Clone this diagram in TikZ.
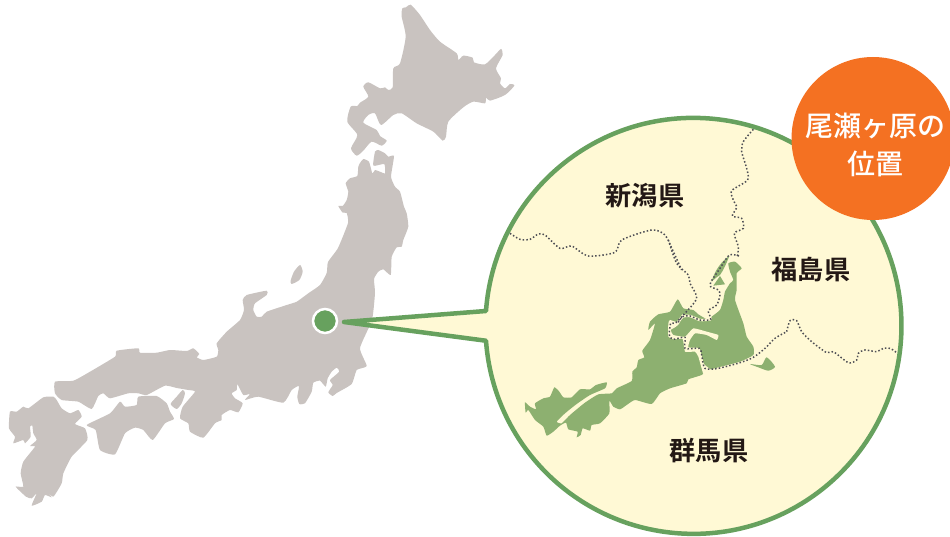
\documentclass[tikz,border=0pt]{standalone}
\usepackage{fontspec}
\setmainfont[BoldFont={Noto Sans CJK JP Bold}]{Noto Sans CJK JP Medium}
\definecolor{landgray}{HTML}{C9C3C0}
\definecolor{ringgreen}{HTML}{67A15E}
\definecolor{creambg}{HTML}{FFF9D5}
\definecolor{forest}{HTML}{8DB070}
\definecolor{badge}{HTML}{F47122}
\definecolor{inktext}{HTML}{231815}
\definecolor{borderdot}{HTML}{4F4F55}
\tikzset{
  zoomed/.style n args={2}{shift={(#1,#2)},x=0.33333pt,y=-0.33333pt},
  land/.style={fill=landgray},
  wood/.style={fill=forest},
  border/.style={draw=borderdot,line width=1.5pt,dash pattern=on 1.5pt off 2.1pt},
  halo/.style={draw=creambg,line width=2.4pt},
  pref/.style={text=inktext,font=\bfseries\fontsize{26.2}{28}\selectfont,inner sep=0pt},
  smoothed/.style={smooth cycle,tension=0.4},
  line/.style={smooth,tension=0.45}
}
\begin{document}
\begin{tikzpicture}[x=1pt,y=-1pt]
\useasboundingbox (0,0) rectangle (950,537);

% Hokkaido
\begin{scope}[zoomed={200}{0}]
\fill[land] plot[smoothed] coordinates {(607,25)(618,22)(632,14)(660,45)(690,90)(720,125)(770,160)(775,180)(790,167)(818,173)(822,187)(855,193)(885,165)(903,147)(908,165)(888,205)(903,235)(900,250)(915,265)(930,252)(943,257)(915,285)(870,302)(858,293)(855,310)(820,305)(790,322)(745,365)(738,410)(728,422)(700,395)(650,370)(605,340)(580,345)(543,375)(525,340)(505,345)(490,368)(530,390)(540,408)(560,422)(545,437)(515,425)(490,452)(470,467)(453,445)(472,405)(442,365)(452,320)(472,318)(480,308)(505,290)(490,260)(505,247)(540,265)(555,262)(565,270)(578,262)(580,205)(600,190)(617,110)(605,50)};
\end{scope}

% Honshu
\fill[land] plot[smooth cycle,tension=0.3] coordinates {
(360,163)(363.3,159)(369,161.7)(372.3,173.3)(375,170)(380,171.7)(385,173.3)(384.3,164)(373.3,165.7)(375,151.7)(378.3,150)(385,153.3)(388.3,156.7)(394,156)(391,176.7)(395,186.7)(400,191.7)(404,206.7)(406.7,213.3)(408.3,226.7)(403.3,240)(401.7,246.7)(396.7,247.3)(391.7,256.7)(390.7,275)(383.3,269.3)(378.3,271.7)(374,279)
(375,293)(372,320)(360,348)(366.7,366)(356.7,370)(351.7,384)(336.7,393)(332.7,396)(328.3,392.3)(332.7,385)(330,380)(339.3,371.7)(336.7,367.7)(331.7,371.7)(327.7,378.3)(325.7,386.7)(320,380.7)(313.3,382.7)(311.7,391.7)(305,403.3)(299.3,404)(297.3,396.7)(299,386)(291.7,390)(283.3,402.7)(258.3,396.7)(245,400)(250,394)(243.3,395)(237.3,384)(236.7,390)(231.7,393.3)(235,398.3)(242.7,403.3)(238.3,412.3)(230,410)(221.7,415)(221.7,420)(215,423.3)(203.3,437.7)
(190,431.7)(188.3,423.3)(180,418.3)(182.7,406.7)(195,391.7)(188.3,390)(176.7,388)(165,385.7)(146.7,395)(138.3,393.3)(128.3,393.3)(110,398.3)(103.3,393.3)(98.3,396)(91.7,409)(78.3,401.7)(61.7,400)(55,393.3)(55,381.7)(73.3,380.7)(90,371.7)(115,356.7)(116.7,350.7)(138.3,348.3)(140,352.7)(156.7,352.7)(170,350)(186.7,351)(193.3,348.3)(199.3,354)(196.7,357.3)(203.3,360)(216.7,356.7)(218.3,350)(216.7,343.3)(226.7,331.7)(240,320)(244,310)(242.7,300)(246.7,295)(266.7,290.7)(266.7,295)(255,303.3)(253.3,310)(256.7,316.7)(261.7,316.7)(266.7,311.7)(286.7,305)(296.7,301.7)(308.3,293.3)(320,285)(326.7,273)(328,262)(338,248)(348,223)(346.7,213)(342.7,212.7)(338.3,206)(342.7,206)(346.7,200)(348.3,191.7)(345.7,183.3)(350,178.3)(357.3,176)(358.3,166.7)};

% Sado
\begin{scope}[zoomed={180}{260}]
\fill[land] plot[smoothed] coordinates {(360,15)(368,35)(358,60)(335,72)(332,62)(342,35)};
\end{scope}

\begin{scope}[zoomed={0}{260}]
% Shikoku
\fill[land] plot[smooth cycle,tension=0.3] coordinates {(260,495)(330,460)(360,425)(375,440)(410,435)(415,410)(470,408)(500,430)(510,455)(522,477)(495,490)(458,540)(430,510)(405,503)(375,520)(345,583)(300,570)(287,510)};
% Awaji
\fill[land] plot[smoothed] coordinates {(548,390)(530,410)(512,432)(530,447)(545,430)(555,400)};
% Kyushu
\fill[land] plot[smooth cycle,tension=0.3] coordinates {(160,410)(170,420)(185,445)(210,460)(235,450)(245,470)(225,492)(255,505)(262,540)(215,590)(190,640)(185,670)(160,710)(140,695)(155,712)(135,705)(125,725)(95,737)(110,700)(95,715)(78,710)(47,680)(70,680)(62,640)(70,605)(105,560)(90,558)(110,540)(100,520)(97,497)(90,500)(92,530)(75,550)(70,540)(40,550)(45,530)(27,505)(30,455)(50,455)(70,440)(85,445)(130,412)};
\end{scope}

% Callout
\coordinate (pintip) at (344,322);
\filldraw[draw=ringgreen,fill=creambg,line width=4.5pt,line join=round]
  (486,311) arc[start angle=175.9,end angle=-175.9,radius=208pt] -- (pintip) -- cycle;

% Forest
\begin{scope}[zoomed={510}{280}]
\fill[wood] plot[smooth cycle,tension=0.3] coordinates {(45,367)(60,380)(78,388)(75,370)(100,355)(120,350)(133,322)(148,335)(160,352)(185,352)(210,328)(240,328)(258,315)(290,307)(285,325)(240,345)(200,372)(165,400)(140,425)(155,430)(180,405)(225,368)(265,343)(305,340)(320,325)(365,303)(367,275)(380,262)(385,240)(403,232)(397,212)(420,180)(435,130)(415,150)(420,125)(445,103)(480,95)(503,58)(520,85)(550,90)(565,103)(595,120)(605,110)(630,90)(640,60)(645,35)(660,10)(670,0)(660,-25)(655,-50)(675,-55)(695,-35)(680,-20)(680,30)(675,60)(700,130)(710,170)(730,200)(730,225)(690,245)(625,262)(590,272)(575,285)(535,298)(530,310)(480,325)(450,340)(425,372)(375,360)(350,375)(330,388)(310,380)(298,362)(298,400)(270,430)(245,435)(240,452)(218,445)(212,465)(200,472)(203,455)(175,448)(168,428)(150,437)(130,455)(110,467)(100,440)(75,420)(55,390)(47,398)};
\fill[wood] plot[smoothed] coordinates {(720,252)(755,255)(770,232)(795,260)(775,272)(745,262)};
\end{scope}
\begin{scope}[zoomed={640}{240}]
\fill[wood] (268,48) .. controls (245,62) and (222,95) .. (215,125) .. controls (222,118) and (232,110) .. (240,105) .. controls (252,88) and (260,68) .. (268,48) -- cycle;
\fill[wood] (240,108) -- (255,133) -- (220,137) -- cycle;
% inlets of the forest
\fill[creambg] plot[smooth cycle,tension=0.25] coordinates {(90,240)(118,250)(105,262)(92,270)(100,285)(135,290)(160,265)(200,275)(235,285)(230,300)(200,285)(165,280)(150,300)(145,322)(178,325)(192,372)(215,392)(205,410)(190,402)(175,350)(165,335)(135,335)(128,297)(100,298)(85,290)(85,250)};
\draw[halo] plot[line] coordinates {(212,238)(180,240)(150,228)(128,230)(112,250)};
\draw[halo] plot[line] coordinates {(205,212)(212,238)};
\draw[halo] plot[line] coordinates {(130,225)(112,250)};
\draw[border] plot[line] coordinates {(85,0)(110,70)(145,105)(150,130)(170,175)(130,225)(105,250)(92,250)(88,285)(100,298)(135,292)(135,325)(178,325)(185,345)(195,385)(235,385)(300,368)(340,352)(375,325)(405,295)(440,275)};
\draw[border] plot[line] coordinates {(297,48)(268,45)(240,85)(213,125)(212,140)(235,150)(240,165)(230,195)(205,212)(212,238)(180,240)(150,228)(128,230)(112,250)};
\end{scope}
% Prefecture borders
\begin{scope}[zoomed={500}{120}]
\draw[border] plot[line] coordinates {(30,340)(60,358)(90,358)(115,342)(135,345)(180,385)(215,378)(265,408)(345,397)(365,360)(455,330)(495,345)(520,395)(545,450)};
\draw[border] plot[line] coordinates {(760,28)(730,65)(725,95)(740,145)(743,180)(695,212)(700,240)(710,262)(697,288)(725,295)(730,325)(703,340)(715,380)(712,408)};
\end{scope}
\begin{scope}[zoomed={740}{300}]
\draw[border] plot[line] coordinates {(140,95)(150,62)(170,62)(185,95)(215,125)(260,158)(280,155)(325,188)(350,180)(355,160)(375,150)(410,155)(430,145)(450,145)(470,158)};
\end{scope}

% Location dot
\node[circle,fill=ringgreen,draw=white,line width=2.5pt,minimum size=24pt,inner sep=0pt] (spot) at (325,321) {};

% Labels
\node[pref] (niigata) at (645,196) {新潟県};
\node[pref] (fukushima) at (811,270) {福島県};
\node[pref] (gunma) at (709,451) {群馬県};

% Badge
\fill[badge] (873,138.5) circle[radius=81.5pt];
\node[text=white,font=\fontsize{28}{38}\selectfont,align=center,inner sep=0pt] (badgetext) at (875,145) {尾瀬ヶ原の\\位置};
\end{tikzpicture}
\end{document}
